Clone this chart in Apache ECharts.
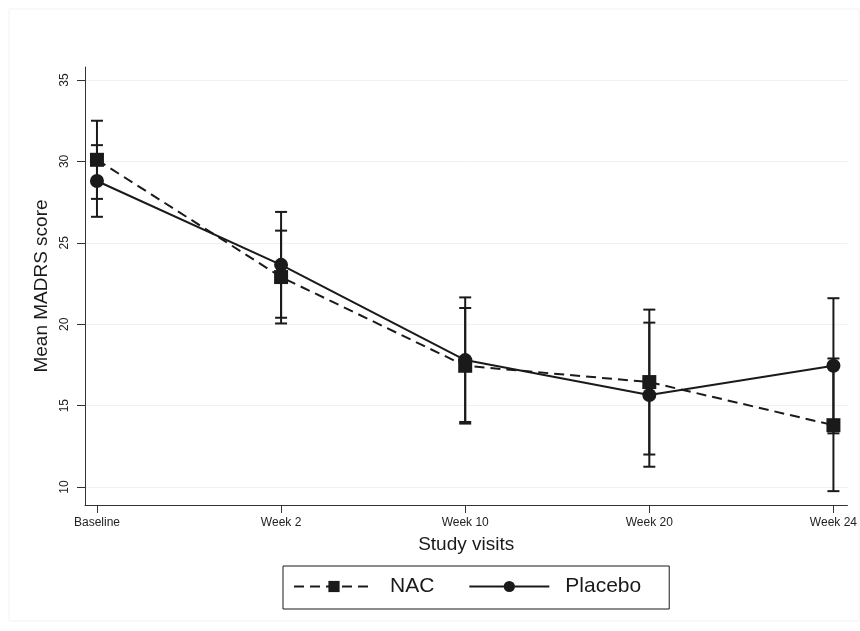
<!DOCTYPE html>
<html>
<head>
    <meta charset="utf-8" />
    <title>MADRS</title>
    <script src="https://cdn.jsdelivr.net/npm/echarts@6/dist/echarts.min.js"></script>
</head>
<body style="margin:0;background:#fff;">
    <div id="main" style="width: 860px; height: 631px;"></div>
    <script type="text/javascript">
        // data
        var visits = ['Baseline', 'Week 2', 'Week 10', 'Week 20', 'Week 24'];
        var yTicks = [10, 15, 20, 25, 30, 35];
        var nacMean = [30.1, 22.9, 17.45, 16.45, 13.8];
        var nacLow = [27.7, 20.05, 13.9, 12.0, 9.75];
        var nacHigh = [32.5, 25.75, 21.0, 20.9, 17.9];
        var plaMean = [28.8, 23.65, 17.8, 15.65, 17.45];
        var plaLow = [26.6, 20.4, 14.0, 11.25, 13.3];
        var plaHigh = [31.0, 26.9, 21.65, 20.1, 21.6];

        var ink = '#1a1a1a';

        function pts(arr) {
            var out = [];
            for (var i = 0; i < arr.length; i++) out.push([i, arr[i]]);
            return out;
        }
        function bars(low, high) {
            var out = [];
            for (var i = 0; i < low.length; i++) out.push([i, low[i], high[i]]);
            return out;
        }
        // vertical error bar with caps
        function renderBar(params, api) {
            var lo = api.coord([api.value(0), api.value(1)]);
            var hi = api.coord([api.value(0), api.value(2)]);
            var w = 6;
            var st = { stroke: ink, lineWidth: 2 };
            return {
                type: 'group',
                children: [
                    { type: 'line', shape: { x1: lo[0], y1: lo[1], x2: hi[0], y2: hi[1] }, style: st },
                    { type: 'line', shape: { x1: lo[0] - w, y1: lo[1], x2: lo[0] + w, y2: lo[1] }, style: st },
                    { type: 'line', shape: { x1: hi[0] - w, y1: hi[1], x2: hi[0] + w, y2: hi[1] }, style: st }
                ]
            };
        }

        var myChart = echarts.init(document.getElementById('main'));
        var option = {
            backgroundColor: '#fff',
            animation: false,
            textStyle: { fontFamily: 'Liberation Sans, Arial, sans-serif' },
            graphic: [{
                type: 'rect',
                shape: { x: 9, y: 9, width: 850, height: 612 },
                style: { fill: 'none', stroke: '#f3f3f3', lineWidth: 1 },
                silent: true
            }],
            grid: { left: 85, right: 9, top: 67, bottom: 126 },
            legend: {
                data: ['NAC', 'Placebo'],
                left: 283,
                top: 566,
                padding: [10, 28, 12, 10],
                itemGap: 34,
                itemWidth: 80,
                itemHeight: 14,
                borderColor: ink,
                borderWidth: 1,
                textStyle: { fontSize: 21, color: ink, padding: [0, 0, 0, 11] }
            },
            xAxis: {
                type: 'value',
                min: -0.065,
                max: 4.076,
                name: 'Study visits',
                nameLocation: 'middle',
                nameGap: 30,
                nameTextStyle: { fontSize: 19, color: ink },
                axisLine: { onZero: false, lineStyle: { color: '#333', width: 1 } },
                axisTick: { customValues: [0, 1, 2, 3, 4], length: 8, lineStyle: { color: '#333' } },
                axisLabel: {
                    customValues: [0, 1, 2, 3, 4],
                    color: '#222',
                    fontSize: 12,
                    margin: 12,
                    formatter: function (v) { return visits[Math.round(v)]; }
                },
                splitLine: { show: false }
            },
            yAxis: {
                type: 'value',
                min: 8.9,
                max: 35.8,
                name: 'Mean MADRS score',
                nameLocation: 'middle',
                nameGap: 32,
                nameRotate: 90,
                nameTextStyle: { fontSize: 19, color: ink },
                axisLine: { show: true, onZero: false, lineStyle: { color: '#333', width: 1 } },
                axisTick: { show: true, customValues: yTicks, length: 8, lineStyle: { color: '#333' } },
                axisLabel: { customValues: yTicks, rotate: 90, color: '#222', fontSize: 12, margin: 14 },
                splitLine: { show: true, lineStyle: { color: '#f0f0f0', width: 1 } }
            },
            series: [
                {
                    name: 'NAC',
                    type: 'line',
                    data: pts(nacMean),
                    symbol: 'rect',
                    symbolSize: 14,
                    itemStyle: { color: ink },
                    lineStyle: { color: ink, width: 2, type: [10, 6] },
                    z: 5
                },
                {
                    name: 'Placebo',
                    type: 'line',
                    data: pts(plaMean),
                    symbol: 'circle',
                    symbolSize: 14,
                    itemStyle: { color: ink },
                    lineStyle: { color: ink, width: 2 },
                    z: 5
                },
                {
                    type: 'custom',
                    renderItem: renderBar,
                    data: bars(nacLow, nacHigh),
                    z: 3
                },
                {
                    type: 'custom',
                    renderItem: renderBar,
                    data: bars(plaLow, plaHigh),
                    z: 3
                }
            ]
        };
        myChart.setOption(option);
    </script>
</body>
</html>
